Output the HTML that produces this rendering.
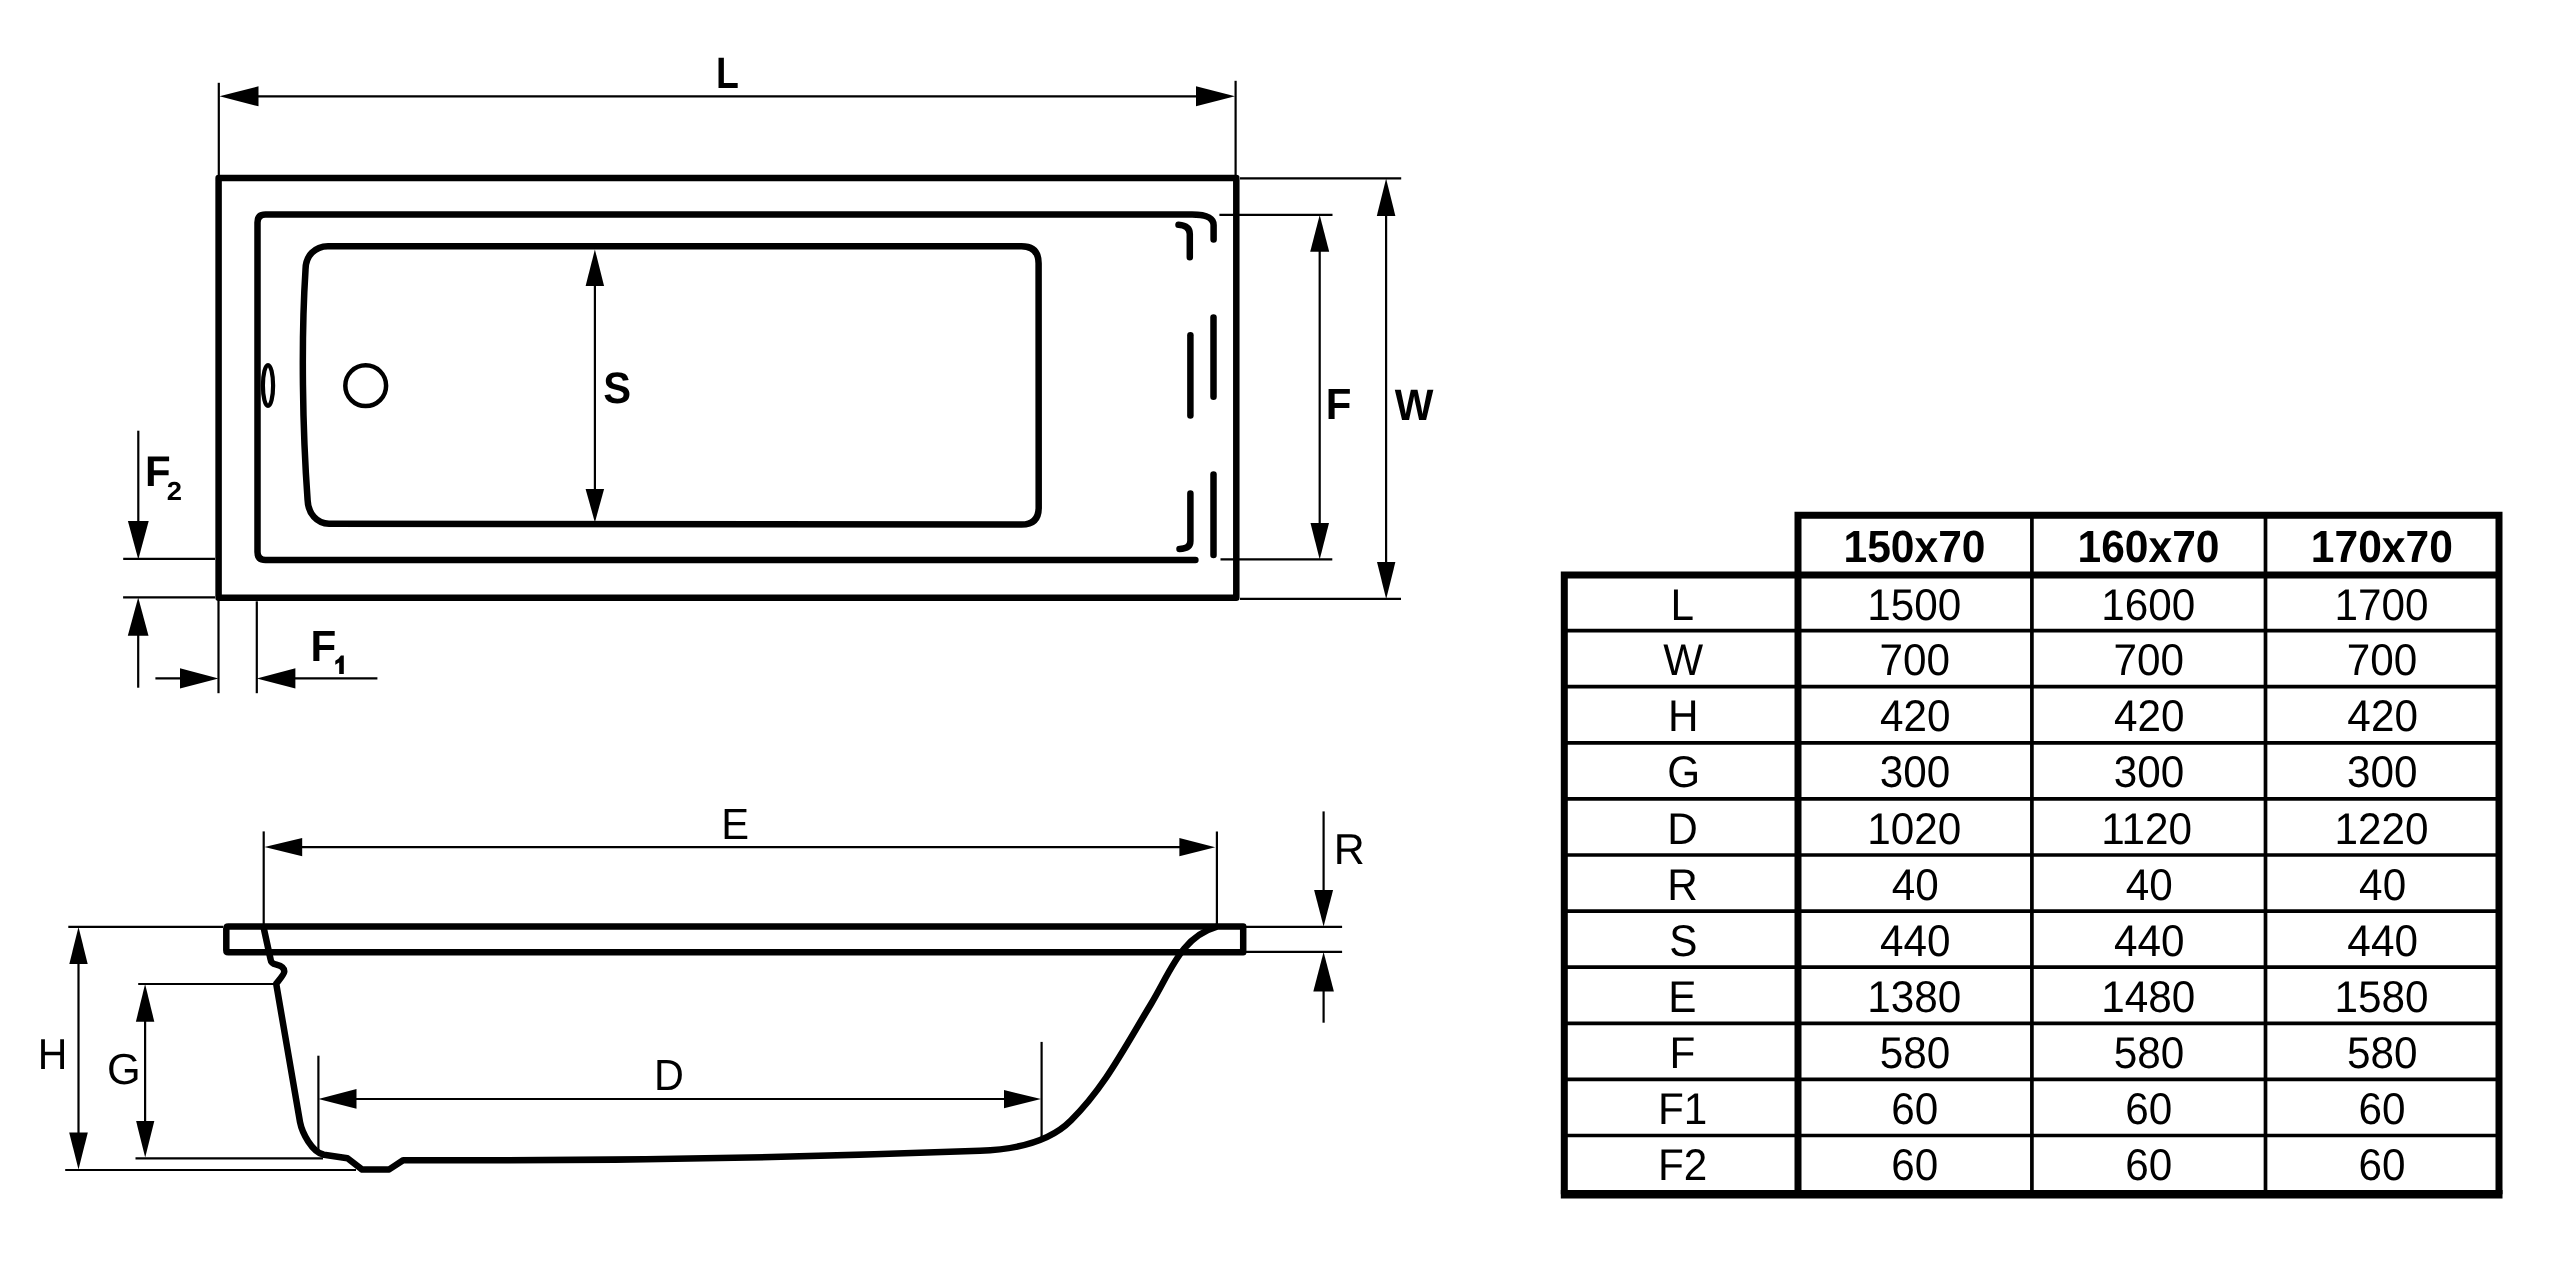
<!DOCTYPE html>
<html><head><meta charset="utf-8"><style>
html,body{margin:0;padding:0;background:#fff;width:2560px;height:1274px;overflow:hidden}
svg{display:block;filter:grayscale(1)}
text{font-family:"Liberation Sans",sans-serif;fill:#000;stroke:none;text-rendering:geometricPrecision}
.f{fill:#000;stroke:none}
</style></head><body>
<svg width="2560" height="1274" viewBox="0 0 2560 1274">
<rect x="0" y="0" width="2560" height="1274" fill="#fff"/>
<g stroke="#000" fill="none">

<rect x="218.6" y="177.9" width="1017.7" height="419.9" stroke-width="6.5" stroke-linejoin="round"/>
<path d="M1195.4,560 L265.5,560 Q257.5,560 257.5,552 L257.5,222.4 Q257.5,214.4 265.5,214.4 L1192,214.4 C1204,214.4 1213.6,216.5 1213.6,225 L1213.6,239.5" stroke-width="6.5" stroke-linecap="round" stroke-linejoin="round"/>
<path d="M1178.5,224.7 Q1189.8,225.5 1189.8,234 L1189.8,257.3" stroke-width="6.5" stroke-linecap="round"/>
<line x1="1213.5" y1="317.6" x2="1213.5" y2="396.7" stroke-width="6.5" stroke-linecap="round"/>
<line x1="1190.4" y1="335.2" x2="1190.4" y2="415.6" stroke-width="6.5" stroke-linecap="round"/>
<line x1="1213.5" y1="474.6" x2="1213.5" y2="555" stroke-width="6.5" stroke-linecap="round"/>
<path d="M1190.4,493.5 L1190.4,541 Q1190.4,548.7 1179.5,548.9" stroke-width="6.5" stroke-linecap="round"/>
<path d="M328,246.2 L1021.5,246.2 Q1038.6,246.2 1038.6,263.3 L1038.7,507.5 Q1038.7,524.6 1021.6,524.6 L329,523.7 C317,523.7 308,513.5 307.6,500 C302.5,430 301,340 305.5,270 C305.3,256 315,246.2 328,246.2 Z" stroke-width="6.5" stroke-linejoin="round"/>
<ellipse cx="268" cy="385.5" rx="5.1" ry="20.5" stroke-width="4.2"/>
<circle cx="365.7" cy="385.7" r="20.4" stroke-width="4.5"/>
<line x1="218.8" y1="82.8" x2="218.8" y2="178" stroke-width="2.2" stroke-linecap="butt"/>
<line x1="1235.6" y1="80.8" x2="1235.6" y2="178" stroke-width="2.2" stroke-linecap="butt"/>
<line x1="240" y1="96.3" x2="1215" y2="96.3" stroke-width="2.2" stroke-linecap="butt"/>
<polygon class="f" points="219.5,96.3 258.5,86.3 258.5,106.3"/>
<polygon class="f" points="1235.0,96.3 1196.0,86.3 1196.0,106.3"/>
<text transform="translate(716.00,87.50) scale(0.8523,1)" font-size="43.90" font-weight="bold">L</text>
<line x1="594.9" y1="270" x2="594.9" y2="505" stroke-width="2.2" stroke-linecap="butt"/>
<polygon class="f" points="594.9,249.5 585.6,286.0 604.1,286.0"/>
<polygon class="f" points="594.9,522.4 585.6,488.9 604.1,488.9"/>
<text transform="translate(603.30,403.37) scale(0.9500,1)" font-size="43.93" font-weight="bold">S</text>
<line x1="1219.4" y1="214.9" x2="1332.5" y2="214.9" stroke-width="2.2" stroke-linecap="butt"/>
<line x1="1220.5" y1="559.4" x2="1332.3" y2="559.4" stroke-width="2.2" stroke-linecap="butt"/>
<line x1="1240" y1="178.3" x2="1401.2" y2="178.3" stroke-width="2.2" stroke-linecap="butt"/>
<line x1="1240" y1="598.9" x2="1401" y2="598.9" stroke-width="2.2" stroke-linecap="butt"/>
<line x1="1319.7" y1="240" x2="1319.7" y2="540" stroke-width="2.2" stroke-linecap="butt"/>
<polygon class="f" points="1319.7,215.0 1310.2,251.7 1329.2,251.7"/>
<polygon class="f" points="1319.7,559.5 1310.5,523.1 1329.0,523.1"/>
<line x1="1386.1" y1="200" x2="1386.1" y2="580" stroke-width="2.2" stroke-linecap="butt"/>
<polygon class="f" points="1386.1,178.5 1376.8,215.9 1395.4,215.9"/>
<polygon class="f" points="1386.2,599.0 1377.0,562.0 1395.4,562.0"/>
<text transform="translate(1325.79,419.30) scale(0.9596,1)" font-size="43.75" font-weight="bold">F</text>
<text transform="translate(1394.76,420.00) scale(0.9336,1)" font-size="43.90" font-weight="bold">W</text>
<line x1="138.3" y1="430.7" x2="138.3" y2="530" stroke-width="2.2" stroke-linecap="butt"/>
<polygon class="f" points="138.3,559.4 127.9,521.1 148.7,521.1"/>
<line x1="123.2" y1="558.8" x2="215" y2="558.8" stroke-width="2.2" stroke-linecap="butt"/>
<line x1="123.1" y1="597.3" x2="215" y2="597.3" stroke-width="2.2" stroke-linecap="butt"/>
<polygon class="f" points="138.2,597.5 127.8,635.8 148.5,635.8"/>
<line x1="138.2" y1="620" x2="138.2" y2="687.7" stroke-width="2.2" stroke-linecap="butt"/>
<text transform="translate(144.89,486.00) scale(0.9759,1)" font-size="43.02" font-weight="bold">F</text>
<text transform="translate(166.85,499.70) scale(1.0519,1)" font-size="26.07" font-weight="bold">2</text>
<line x1="218.5" y1="600" x2="218.5" y2="693.2" stroke-width="2.2" stroke-linecap="butt"/>
<line x1="256.8" y1="601.3" x2="256.8" y2="693.2" stroke-width="2.2" stroke-linecap="butt"/>
<line x1="155.4" y1="678.4" x2="200" y2="678.4" stroke-width="2.2" stroke-linecap="butt"/>
<polygon class="f" points="218.5,678.4 180.0,668.2 180.0,688.5"/>
<line x1="280" y1="678.4" x2="377.4" y2="678.4" stroke-width="2.2" stroke-linecap="butt"/>
<polygon class="f" points="256.8,678.4 295.4,668.2 295.4,688.5"/>
<text transform="translate(310.58,661.00) scale(0.9641,1)" font-size="43.75" font-weight="bold">F</text>
<polygon class="f" points="340.9,655.6 343.8,655.6 343.8,674.1 339.2,674.1 339.2,662.4 335.3,664.7 335.3,660.7 338.4,658.7"/>
<path d="M1216,926.6 L228.3,926.6 Q226.3,926.6 226.3,928.6 L226.3,950.2 Q226.3,952.2 228.3,952.2 L1243.2,952.2 L1243.2,926.6 L1216,926.6" stroke-width="6.5" stroke-linejoin="round"/>
<path d="M263.5,927 L270.5,959 C271,963 273,963.8 276.5,964.6 C282,966 284.6,968.5 284.2,972 C283.8,975 279,980 276.2,983.8 L300,1122 C302,1132.5 312,1152.4 324,1154.8 L347.5,1158.2 L362.2,1169.6 L389.2,1169.4 L403.1,1160.2 Q691.5,1161.5 980,1150.8 C1011.0,1149.7 1047.7,1143.8 1070.9,1120.5 C1104.1,1087.4 1121.9,1052.3 1151.2,1003.7 C1170.9,971.0 1181.1,937.1 1217.0,926.7" stroke-width="6.5" stroke-linejoin="round"/>
<line x1="263.7" y1="831.4" x2="263.7" y2="927" stroke-width="2.2" stroke-linecap="butt"/>
<line x1="1216.9" y1="831.5" x2="1216.9" y2="927" stroke-width="2.2" stroke-linecap="butt"/>
<line x1="290" y1="847.1" x2="1190" y2="847.1" stroke-width="2.2" stroke-linecap="butt"/>
<polygon class="f" points="264.5,847.1 302.2,838.0 302.2,856.2"/>
<polygon class="f" points="1215.2,847.2 1179.4,838.1 1179.4,856.3"/>
<text transform="translate(721.28,838.60) scale(0.9531,1)" font-size="43.75" font-weight="normal">E</text>
<line x1="1244" y1="926.8" x2="1342.1" y2="926.8" stroke-width="2.2" stroke-linecap="butt"/>
<line x1="1244" y1="951.8" x2="1342.1" y2="951.8" stroke-width="2.2" stroke-linecap="butt"/>
<line x1="1323.6" y1="811.4" x2="1323.6" y2="900" stroke-width="2.2" stroke-linecap="butt"/>
<polygon class="f" points="1323.6,926.5 1314.1,890.0 1333.1,890.0"/>
<polygon class="f" points="1323.6,952.0 1313.3,991.4 1333.9,991.4"/>
<line x1="1323.6" y1="980" x2="1323.6" y2="1022.7" stroke-width="2.2" stroke-linecap="butt"/>
<text transform="translate(1333.68,863.70) scale(0.9949,1)" font-size="43.17" font-weight="normal">R</text>
<line x1="68.3" y1="926.8" x2="223" y2="926.8" stroke-width="2.2" stroke-linecap="butt"/>
<line x1="65.2" y1="1170" x2="356" y2="1170" stroke-width="2.2" stroke-linecap="butt"/>
<line x1="78.5" y1="950" x2="78.5" y2="1150" stroke-width="2.2" stroke-linecap="butt"/>
<polygon class="f" points="78.5,927.0 69.3,964.1 87.7,964.1"/>
<polygon class="f" points="78.5,1169.4 69.2,1132.4 87.8,1132.4"/>
<text transform="translate(37.64,1069.20) scale(0.9465,1)" font-size="43.31" font-weight="normal">H</text>
<line x1="138.2" y1="984" x2="276" y2="984" stroke-width="2.2" stroke-linecap="butt"/>
<line x1="135.5" y1="1158.4" x2="323" y2="1158.4" stroke-width="2.2" stroke-linecap="butt"/>
<line x1="145.1" y1="1000" x2="145.1" y2="1140" stroke-width="2.2" stroke-linecap="butt"/>
<polygon class="f" points="145.1,984.0 135.9,1021.7 154.3,1021.7"/>
<polygon class="f" points="145.2,1157.5 136.1,1121.0 154.3,1121.0"/>
<text transform="translate(106.92,1083.58) scale(0.9965,1)" font-size="43.50" font-weight="normal">G</text>
<line x1="318.4" y1="1055.7" x2="318.4" y2="1150" stroke-width="2.2" stroke-linecap="butt"/>
<line x1="1041.6" y1="1041.9" x2="1041.6" y2="1137" stroke-width="2.2" stroke-linecap="butt"/>
<line x1="340" y1="1099" x2="1020" y2="1099" stroke-width="2.2" stroke-linecap="butt"/>
<polygon class="f" points="318.4,1098.9 356.5,1089.1 356.5,1108.7"/>
<polygon class="f" points="1041.0,1099.1 1004.0,1090.0 1004.0,1108.2"/>
<text transform="translate(654.11,1090.40) scale(0.9486,1)" font-size="43.61" font-weight="normal">D</text>
<path d="M1564.3,1194.3 L1564.3,575 L1798,575" stroke-width="7" stroke-linejoin="miter"/>
<path d="M1798,1194.3 L1798,515.3 L2499,515.3 L2499,1194.3" stroke-width="7" stroke-linejoin="miter"/>
<line x1="1560.8" y1="1194.3" x2="2502.5" y2="1194.3" stroke-width="8.6"/>
<line x1="1798" y1="575" x2="2499" y2="575" stroke-width="7"/>
<line x1="2031.9" y1="515" x2="2031.9" y2="1194" stroke-width="3.7"/>
<line x1="2265.5" y1="515" x2="2265.5" y2="1194" stroke-width="3.7"/>
<line x1="1564" y1="630.6" x2="2499" y2="630.6" stroke-width="3.7"/>
<line x1="1564" y1="686.7" x2="2499" y2="686.7" stroke-width="3.7"/>
<line x1="1564" y1="742.8" x2="2499" y2="742.8" stroke-width="3.7"/>
<line x1="1564" y1="798.9" x2="2499" y2="798.9" stroke-width="3.7"/>
<line x1="1564" y1="855.0" x2="2499" y2="855.0" stroke-width="3.7"/>
<line x1="1564" y1="911.1" x2="2499" y2="911.1" stroke-width="3.7"/>
<line x1="1564" y1="967.2" x2="2499" y2="967.2" stroke-width="3.7"/>
<line x1="1564" y1="1023.3" x2="2499" y2="1023.3" stroke-width="3.7"/>
<line x1="1564" y1="1079.4" x2="2499" y2="1079.4" stroke-width="3.7"/>
<line x1="1564" y1="1135.5" x2="2499" y2="1135.5" stroke-width="3.7"/>
</g>
<g>
<text transform="translate(1843.52,562.36) scale(0.9417,1)" font-size="45.20" font-weight="bold">150x70</text>
<text transform="translate(2077.52,562.36) scale(0.9417,1)" font-size="45.20" font-weight="bold">160x70</text>
<text transform="translate(2310.82,562.36) scale(0.9417,1)" font-size="45.20" font-weight="bold">170x70</text>
<text transform="translate(1670.51,619.60) scale(0.9505,1)" font-size="44.49" font-weight="normal">L</text>
<text transform="translate(1867.18,619.60) scale(0.9505,1)" font-size="44.49" font-weight="normal">1500</text>
<text transform="translate(2101.18,619.60) scale(0.9505,1)" font-size="44.49" font-weight="normal">1600</text>
<text transform="translate(2334.48,619.60) scale(0.9505,1)" font-size="44.49" font-weight="normal">1700</text>
<text transform="translate(1663.32,675.20) scale(0.9505,1)" font-size="44.49" font-weight="normal">W</text>
<text transform="translate(1879.46,675.20) scale(0.9505,1)" font-size="44.49" font-weight="normal">700</text>
<text transform="translate(2113.46,675.20) scale(0.9505,1)" font-size="44.49" font-weight="normal">700</text>
<text transform="translate(2346.76,675.20) scale(0.9505,1)" font-size="44.49" font-weight="normal">700</text>
<text transform="translate(1668.02,731.30) scale(0.9505,1)" font-size="44.49" font-weight="normal">H</text>
<text transform="translate(1880.06,731.30) scale(0.9505,1)" font-size="44.49" font-weight="normal">420</text>
<text transform="translate(2114.06,731.30) scale(0.9505,1)" font-size="44.49" font-weight="normal">420</text>
<text transform="translate(2347.36,731.30) scale(0.9505,1)" font-size="44.49" font-weight="normal">420</text>
<text transform="translate(1667.37,787.40) scale(0.9505,1)" font-size="44.49" font-weight="normal">G</text>
<text transform="translate(1879.74,787.40) scale(0.9505,1)" font-size="44.49" font-weight="normal">300</text>
<text transform="translate(2113.74,787.40) scale(0.9505,1)" font-size="44.49" font-weight="normal">300</text>
<text transform="translate(2347.04,787.40) scale(0.9505,1)" font-size="44.49" font-weight="normal">300</text>
<text transform="translate(1667.31,843.50) scale(0.9505,1)" font-size="44.49" font-weight="normal">D</text>
<text transform="translate(1867.18,843.50) scale(0.9505,1)" font-size="44.49" font-weight="normal">1020</text>
<text transform="translate(2101.18,843.50) scale(0.9505,1)" font-size="44.49" font-weight="normal">1120</text>
<text transform="translate(2334.48,843.50) scale(0.9505,1)" font-size="44.49" font-weight="normal">1220</text>
<text transform="translate(1667.28,899.60) scale(0.9505,1)" font-size="44.49" font-weight="normal">R</text>
<text transform="translate(1891.82,899.60) scale(0.9505,1)" font-size="44.49" font-weight="normal">40</text>
<text transform="translate(2125.82,899.60) scale(0.9505,1)" font-size="44.49" font-weight="normal">40</text>
<text transform="translate(2359.12,899.60) scale(0.9505,1)" font-size="44.49" font-weight="normal">40</text>
<text transform="translate(1669.21,955.70) scale(0.9505,1)" font-size="44.49" font-weight="normal">S</text>
<text transform="translate(1880.06,955.70) scale(0.9505,1)" font-size="44.49" font-weight="normal">440</text>
<text transform="translate(2114.06,955.70) scale(0.9505,1)" font-size="44.49" font-weight="normal">440</text>
<text transform="translate(2347.36,955.70) scale(0.9505,1)" font-size="44.49" font-weight="normal">440</text>
<text transform="translate(1668.37,1011.80) scale(0.9505,1)" font-size="44.49" font-weight="normal">E</text>
<text transform="translate(1867.18,1011.80) scale(0.9505,1)" font-size="44.49" font-weight="normal">1380</text>
<text transform="translate(2101.18,1011.80) scale(0.9505,1)" font-size="44.49" font-weight="normal">1480</text>
<text transform="translate(2334.48,1011.80) scale(0.9505,1)" font-size="44.49" font-weight="normal">1580</text>
<text transform="translate(1669.50,1067.90) scale(0.9505,1)" font-size="44.49" font-weight="normal">F</text>
<text transform="translate(1879.70,1067.90) scale(0.9505,1)" font-size="44.49" font-weight="normal">580</text>
<text transform="translate(2113.70,1067.90) scale(0.9505,1)" font-size="44.49" font-weight="normal">580</text>
<text transform="translate(2347.00,1067.90) scale(0.9505,1)" font-size="44.49" font-weight="normal">580</text>
<text transform="translate(1657.92,1124.00) scale(0.9505,1)" font-size="44.49" font-weight="normal">F1</text>
<text transform="translate(1891.23,1124.00) scale(0.9505,1)" font-size="44.49" font-weight="normal">60</text>
<text transform="translate(2125.23,1124.00) scale(0.9505,1)" font-size="44.49" font-weight="normal">60</text>
<text transform="translate(2358.53,1124.00) scale(0.9505,1)" font-size="44.49" font-weight="normal">60</text>
<text transform="translate(1657.95,1180.10) scale(0.9505,1)" font-size="44.49" font-weight="normal">F2</text>
<text transform="translate(1891.23,1180.10) scale(0.9505,1)" font-size="44.49" font-weight="normal">60</text>
<text transform="translate(2125.23,1180.10) scale(0.9505,1)" font-size="44.49" font-weight="normal">60</text>
<text transform="translate(2358.53,1180.10) scale(0.9505,1)" font-size="44.49" font-weight="normal">60</text>
</g>
</svg></body></html>
